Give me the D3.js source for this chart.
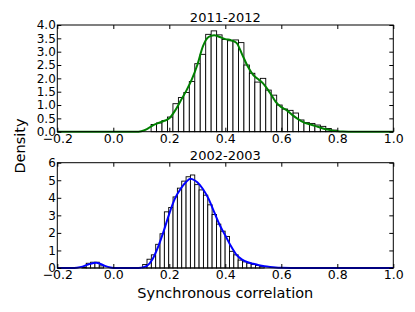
<!DOCTYPE html>
<html>
<head>
<meta charset="utf-8">
<script src="https://cdn.jsdelivr.net/npm/d3@7"></script>
<style>
  body { margin: 0; background: #fff; }
  text { font-family: "DejaVu Sans", sans-serif; fill: #000; }
</style>
</head>
<body>
<div id="chart"></div>
<script>
// ---- data ----
const xTicks = [-0.2, 0.0, 0.2, 0.4, 0.6, 0.8, 1.0];

// 2011-2012 histogram (density), bins start at topBinStart, width topBinWidth
const topBinStart = 0.135;
const topBinWidth = 0.0195;
const topHeights = [0.27, 0.33, 0.42, 0.55, 1.05, 1.28, 1.47, 1.88, 2.55, 2.9,
                    3.65, 3.78, 3.63, 3.46, 3.41, 3.44, 3.34, 2.5, 2.19, 1.86,
                    2.0, 1.56, 1.37, 1.0, 0.85, 0.8, 0.7, 0.44, 0.34, 0.31,
                    0.25, 0.2, 0.12, 0.06];
const topKdeX = [-0.2, 0.08, 0.10, 0.12, 0.14, 0.16, 0.18, 0.20, 0.22, 0.24, 0.26, 0.28, 0.30,
                 0.32, 0.34, 0.36, 0.38, 0.40, 0.42, 0.44, 0.46, 0.48, 0.50, 0.52, 0.54,
                 0.56, 0.58, 0.60, 0.62, 0.64, 0.66, 0.68, 0.70, 0.72, 0.74, 0.76, 0.78,
                 0.80, 0.82, 0.84, 1.0];
const topKdeY = [0, 0, 0.02, 0.1, 0.23, 0.32, 0.4, 0.5, 0.78, 1.15, 1.52, 1.95, 2.5,
                 3.2, 3.55, 3.62, 3.55, 3.47, 3.43, 3.33, 2.9, 2.45, 2.12, 1.95, 1.75,
                 1.45, 1.12, 0.92, 0.8, 0.62, 0.47, 0.35, 0.28, 0.22, 0.15, 0.09, 0.05,
                 0.02, 0.005, 0, 0];
const topYTicks = [0, 0.5, 1.0, 1.5, 2.0, 2.5, 3.0, 3.5, 4.0];

// 2002-2003 histogram
const botBinStart = -0.1121;
const botBinWidth = 0.0155;
const botHeights = [0.05, 0.27, 0.33, 0.33, 0.12, 0, 0, 0, 0, 0, 0, 0, 0, 0,
                    0.2, 0.5, 0.75, 1.35, 1.95, 3.2, 3.45, 4.05, 4.55, 4.95,
                    5.2, 5.3, 4.75, 4.45, 4.15, 3.6, 3.05, 2.5, 2.1, 1.8,
                    0.95, 0.75, 0.45, 0.35, 0.28, 0.2, 0.14, 0.08];
const botKdeX = [-0.2, -0.15, -0.13, -0.11, -0.09, -0.07, -0.06, -0.05, -0.03, -0.01, 0.01,
                 0.08, 0.10, 0.12, 0.14, 0.16, 0.18, 0.20, 0.22, 0.24, 0.26, 0.275, 0.29,
                 0.30, 0.32, 0.34, 0.36, 0.38, 0.40, 0.42, 0.44, 0.46, 0.48, 0.50, 0.52,
                 0.54, 0.56, 0.58, 0.60, 0.64, 0.70, 1.0];
const botKdeY = [0, 0, 0.02, 0.08, 0.2, 0.29, 0.3, 0.26, 0.12, 0.03, 0,
                 0, 0.02, 0.12, 0.5, 1.2, 2.1, 3.1, 3.95, 4.5, 4.9, 5.08, 5.0,
                 4.88, 4.5, 3.95, 3.2, 2.45, 1.85, 1.25, 0.75, 0.48, 0.33, 0.24, 0.16,
                 0.1, 0.06, 0.03, 0.015, 0.005, 0, 0];
const botYTicks = [0, 1, 2, 3, 4, 5, 6];

// ---- layout ----
const W = 415, H = 312;
const left = 57.3, right = 393.3;

const svg = d3.select('#chart').append('svg')
    .attr('width', W)
    .attr('height', H);

const x = d3.scaleLinear().domain([-0.2, 1.0]).range([left, right]);

function drawPanel(cfg) {
    const y = d3.scaleLinear().domain(cfg.yDomain).range([cfg.bottom, cfg.top]);
    const g = svg.append('g');

    const bins = cfg.heights.map((v, i) => ({
        x0: cfg.binStart + i * cfg.binWidth,
        x1: cfg.binStart + (i + 1) * cfg.binWidth,
        v: v
    })).filter(d => d.v > 0);

    g.selectAll('rect.bar')
        .data(bins)
        .enter()
        .append('rect')
        .attr('class', 'bar')
        .attr('x', d => x(d.x0))
        .attr('y', d => y(d.v))
        .attr('width', d => x(d.x1) - x(d.x0))
        .attr('height', d => y(0) - y(d.v))
        .attr('fill', '#fff')
        .attr('stroke', '#000')
        .attr('stroke-width', 0.9);

    const pts = cfg.kdeX.map((xv, i) => [xv, cfg.kdeY[i]]);
    const line = d3.line()
        .x(d => x(d[0]))
        .y(d => y(d[1]))
        .curve(d3.curveMonotoneX);

    g.append('path')
        .datum(pts)
        .attr('d', line)
        .attr('fill', 'none')
        .attr('stroke', cfg.color)
        .attr('stroke-width', 2)
        .attr('stroke-linejoin', 'round');

    // axes: ticks pointing inward on all four sides
    const ax = {
        bottom: d3.axisBottom(x).tickValues(xTicks).tickFormat(d3.format('.1f'))
            .tickSizeInner(-4).tickSizeOuter(0).tickPadding(2),
        top: d3.axisTop(x).tickValues(xTicks).tickFormat('')
            .tickSizeInner(-4).tickSizeOuter(0),
        leftAx: d3.axisLeft(y).tickValues(cfg.yTicks).tickFormat(cfg.yFormat)
            .tickSizeInner(-4).tickSizeOuter(0).tickPadding(1.5),
        rightAx: d3.axisRight(y).tickValues(cfg.yTicks).tickFormat('')
            .tickSizeInner(-4).tickSizeOuter(0)
    };

    const parts = [
        g.append('g').attr('transform', `translate(0,${cfg.bottom})`).call(ax.bottom),
        g.append('g').attr('transform', `translate(0,${cfg.top})`).call(ax.top),
        g.append('g').attr('transform', `translate(${left},0)`).call(ax.leftAx),
        g.append('g').attr('transform', `translate(${right},0)`).call(ax.rightAx)
    ];
    parts.forEach((p, i) => {
        p.select('.domain').remove();
        p.selectAll('text')
            .style('font-size', i === 0 ? '12.5px' : '12px')
            .style('font-family', '"DejaVu Sans", sans-serif');
        p.selectAll('line').attr('stroke', '#000');
    });

    // frame
    g.append('rect')
        .attr('x', left)
        .attr('y', cfg.top)
        .attr('width', right - left)
        .attr('height', cfg.bottom - cfg.top)
        .attr('fill', 'none')
        .attr('stroke', '#000')
        .attr('stroke-width', 1);

    // title
    g.append('text')
        .attr('x', (left + right) / 2)
        .attr('y', cfg.top - 3)
        .attr('text-anchor', 'middle')
        .style('font-size', '13px')
        .text(cfg.title);
}

drawPanel({
    top: 25, bottom: 131.7, yDomain: [0, 4.0], yTicks: topYTicks,
    yFormat: d3.format('.1f'),
    binStart: topBinStart, binWidth: topBinWidth, heights: topHeights,
    kdeX: topKdeX, kdeY: topKdeY, color: '#008000', title: '2011-2012'
});

drawPanel({
    top: 162.7, bottom: 268, yDomain: [0, 6], yTicks: botYTicks,
    yFormat: d3.format('d'),
    binStart: botBinStart, binWidth: botBinWidth, heights: botHeights,
    kdeX: botKdeX, kdeY: botKdeY, color: '#0000ff', title: '2002-2003'
});

// axis labels
svg.append('text')
    .attr('x', (left + right) / 2)
    .attr('y', 298)
    .attr('text-anchor', 'middle')
    .style('font-size', '14.5px')
    .text('Synchronous correlation');

svg.append('text')
    .attr('transform', 'translate(25,146) rotate(-90)')
    .attr('text-anchor', 'middle')
    .style('font-size', '14.5px')
    .text('Density');
</script>
</body>
</html>
